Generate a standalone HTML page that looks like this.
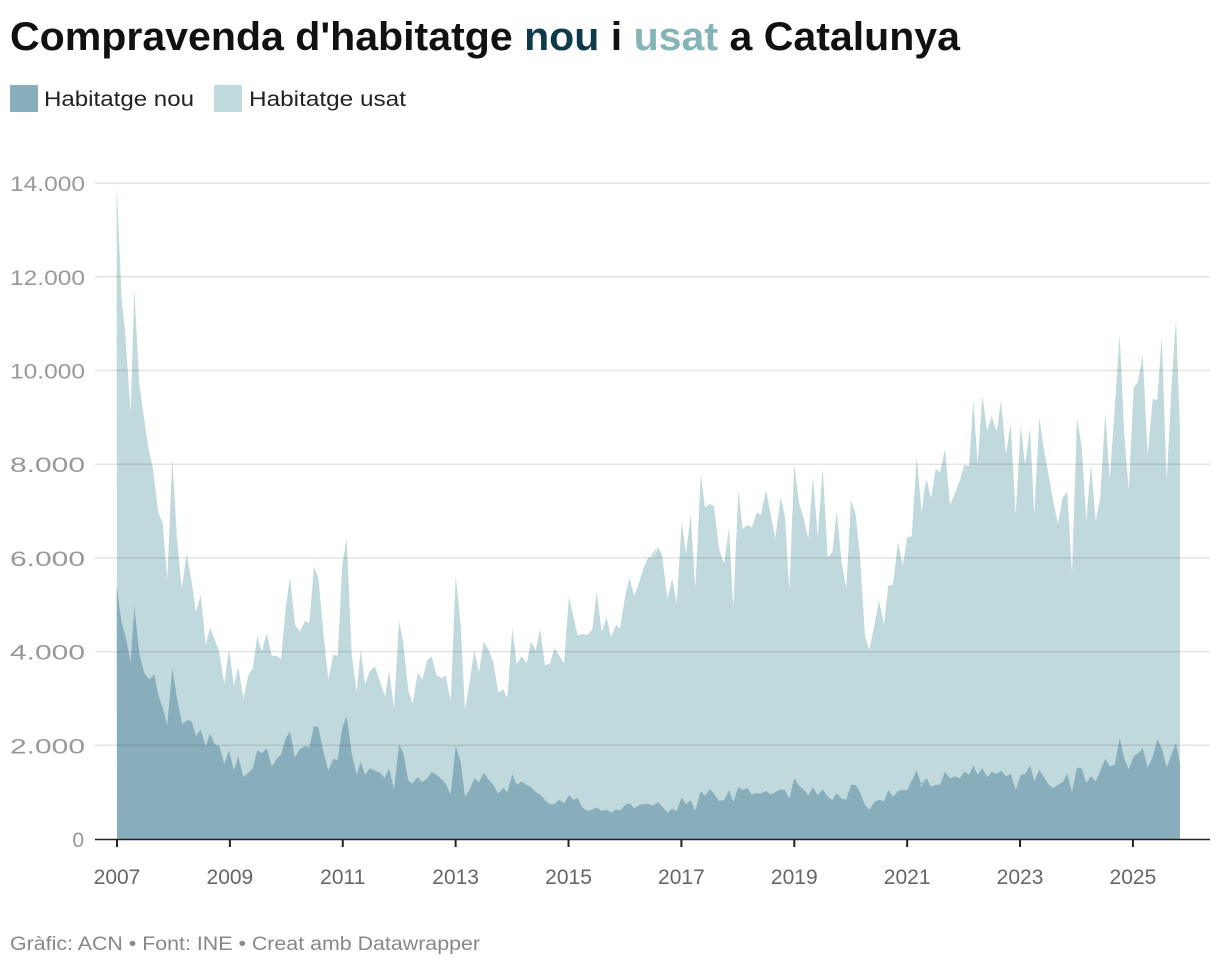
<!DOCTYPE html>
<html><head><meta charset="utf-8"><style>
body{margin:0;background:#fff;width:1220px;height:966px;overflow:hidden;font-family:"Liberation Sans",sans-serif}
</style></head><body>
<svg id="s" width="1220" height="966" xmlns="http://www.w3.org/2000/svg" style="position:absolute;left:0;top:0">
<text x="10" y="50" font-family="Liberation Sans" font-weight="bold" font-size="40" fill="#111" textLength="950" lengthAdjust="spacingAndGlyphs">Compravenda d'habitatge <tspan fill="#0d3b4a">nou</tspan> i <tspan fill="#85b4b6">usat</tspan> a Catalunya</text>
<rect x="10" y="85" width="28" height="27" fill="#88adbb"/>
<text x="44" y="106" font-size="21" fill="#222" textLength="150" lengthAdjust="spacingAndGlyphs">Habitatge nou</text>
<rect x="214" y="85" width="28" height="27" fill="#c0d9dc"/>
<text x="249" y="106" font-size="21" fill="#222" textLength="157" lengthAdjust="spacingAndGlyphs">Habitatge usat</text>
<g id="areas"></g>
<g id="grid"></g>
<line x1="95" y1="839.5" x2="1210" y2="839.5" stroke="#222" stroke-width="1.5"/>
<g id="ticks"></g>
<text x="10" y="950" font-size="19" fill="#888" textLength="470" lengthAdjust="spacingAndGlyphs">Gràfic: ACN • Font: INE • Creat amb Datawrapper</text>
</svg>
<script>
var L=[[110,[[20,35],[35,300],[45,370],[62,560],[73,275],[88,495],[100,560],[115,640],[128,685],[145,790],[158,815],[172,945],[187,665],[200,840],[215,965],[230,885],[245,950],[258,1020],[272,980],[287,1095],[300,1055],[315,1085],[327,1110],[343,1185],[357,1105],[372,1190],[385,1145],[400,1220],[415,1165],[428,1150],[442,1075],[455,1110],[470,1068],[485,1120],[500,1120],[513,1128],[527,1010],[540,940],[555,1048],[570,1065],[585,1040],[598,1045],[612,915],[625,940],[640,1065],[655,1175],[670,1118],[683,1120],[697,910],[710,850],[725,1118],[740,1205],[752,1105],[765,1185],[780,1155],[795,1145],[810,1180],[825,1215],[840,1150]]],
[380,[[13,1220],[27,1155],[42,1240],[57,1040],[70,1090],[85,1200],[98,1230],[113,1160],[127,1175],[142,1130],[155,1122],[170,1165],[185,1172],[197,1165],[212,1225],[227,935],[242,1050],[255,1245],[268,1185],[283,1108],[297,1158],[311,1088],[325,1105],[340,1135],[355,1205],[370,1198],[382,1218],[397,1055],[410,1140],[425,1120],[440,1138],[453,1087],[467,1108],[480,1058],[495,1142],[510,1138],[523,1103],[538,1120],[552,1138],[567,983],[580,1030],[593,1073],[607,1070],[622,1072],[637,1060],[650,973],[665,1065],[680,1032],[693,1078],[708,1048],[720,1058],[735,985],[748,940],[763,982],[777,952],[792,915],[805,893],[820,893],[833,868]]],
[650,[[0,893],[13,890],[25,870],[37,890],[52,990],[67,942],[80,1000],[95,812],[108,885],[122,795],[136,965],[152,703],[165,778],[180,770],[192,775],[207,873],[222,908],[237,825],[250,1010],[265,740],[278,828],[292,818],[305,825],[320,790],[333,795],[348,738],[362,795],[376,848],[392,755],[405,800],[418,970],[433,680],[447,768],[460,800],[475,850],[489,708],[503,845],[518,688],[533,893],[547,882],[560,788],[575,905],[589,965],[603,762],[617,795],[630,890],[645,1075],[658,1108],[673,1050],[687,993],[702,1048],[715,958],[729,957],[744,858],[758,912],[772,847],[785,845],[800,662],[815,790],[828,714]]],
[920,[[0,790],[5,770],[20,713],[33,758],[47,688],[60,698],[75,643],[90,772],[105,745],[120,715],[133,680],[147,683],[160,530],[173,678],[187,520],[202,603],[215,567],[230,603],[243,532],[258,655],[272,585],[287,795],[302,590],[315,680],[330,597],[343,795],[358,572],[372,645],[386,705],[400,765],[414,815],[428,755],[442,742],[456,930],[471,572],[485,640],[499,808],[513,680],[527,810],[541,755],[556,560],[569,715],[584,550],[599,380],[612,600],[626,738],[641,503],[654,487],[668,427],[683,658],[698,528],[712,530],[725,385],[740,717],[755,490],[768,345],[780,600]]]];
var D=[[110,[[20,960],[35,1045],[48,1080],[62,1135],[73,1005],[88,1115],[103,1160],[118,1175],[133,1163],[145,1210],[158,1240],[172,1280],[187,1148],[200,1215],[217,1278],[233,1268],[245,1272],[258,1305],[272,1290],[287,1330],[300,1300],[315,1325],[328,1328],[343,1370],[357,1338],[372,1385],[385,1352],[400,1400],[415,1390],[428,1380],[442,1338],[455,1345],[470,1333],[485,1375],[500,1358],[513,1348],[527,1310],[540,1295],[555,1355],[570,1335],[585,1328],[598,1332],[612,1282],[625,1285],[640,1340],[655,1385],[670,1358],[683,1360],[697,1285],[710,1260],[725,1345],[740,1395],[752,1365],[765,1395],[780,1380],[795,1385],[810,1390],[825,1402],[840,1380]]],
[380,[[13,1405],[27,1380],[42,1428],[57,1325],[70,1345],[85,1408],[98,1415],[113,1400],[127,1412],[142,1403],[155,1388],[170,1395],[185,1405],[197,1415],[212,1440],[227,1328],[242,1365],[255,1445],[268,1430],[283,1403],[297,1412],[311,1390],[325,1405],[340,1418],[355,1438],[370,1425],[382,1435],[397,1393],[410,1418],[425,1410],[440,1418],[453,1423],[467,1435],[480,1440],[495,1453],[510,1463],[523,1462],[538,1452],[552,1460],[567,1442],[580,1452],[593,1448],[607,1470],[622,1478],[637,1475],[650,1470],[665,1478],[680,1475],[693,1482],[708,1475],[720,1477],[735,1465],[748,1460],[763,1472],[777,1465],[792,1462],[805,1462],[820,1466],[833,1458]]],
[650,[[0,1468],[10,1465],[25,1458],[37,1468],[52,1482],[67,1473],[80,1478],[95,1447],[108,1463],[122,1453],[136,1478],[152,1432],[165,1443],[180,1428],[192,1438],[207,1455],[222,1453],[237,1430],[250,1458],[265,1423],[278,1430],[292,1425],[305,1440],[320,1437],[333,1438],[348,1432],[362,1440],[376,1435],[392,1428],[405,1430],[418,1450],[433,1402],[447,1420],[460,1428],[475,1442],[489,1423],[503,1442],[518,1428],[533,1445],[547,1453],[560,1437],[575,1450],[589,1452],[603,1418],[617,1418],[630,1435],[645,1465],[658,1475],[673,1458],[687,1452],[702,1456],[715,1430],[729,1445],[744,1432],[758,1430],[772,1430],[785,1408],[800,1385],[815,1420],[828,1402]]],
[920,[[0,1418],[5,1422],[20,1403],[33,1422],[47,1418],[60,1418],[75,1388],[90,1403],[105,1398],[120,1403],[133,1387],[147,1395],[160,1373],[173,1395],[187,1380],[202,1400],[215,1388],[230,1393],[243,1385],[258,1398],[272,1392],[287,1430],[302,1395],[315,1393],[330,1373],[343,1410],[358,1383],[372,1400],[386,1418],[400,1425],[414,1418],[428,1412],[442,1392],[456,1435],[471,1378],[485,1380],[499,1413],[513,1398],[527,1410],[541,1385],[556,1358],[569,1375],[584,1372],[599,1310],[612,1355],[626,1383],[641,1352],[654,1345],[668,1333],[683,1378],[698,1353],[712,1313],[725,1333],[740,1378],[755,1347],[768,1322],[780,1370]]]];
function pts(P){var a=[];P.forEach(function(g){g[1].forEach(function(p){a.push((g[0]+p[0]/3).toFixed(1)+","+(170+p[1]/2.306).toFixed(1));});});return "117,839 "+a.join(" ")+" 1180,839";}
var ns="http://www.w3.org/2000/svg";
function poly(P,c){var e=document.createElementNS(ns,"polygon");e.setAttribute("points",pts(P));e.setAttribute("fill",c);document.getElementById("areas").appendChild(e);}
poly(L,"#c0d9dc");poly(D,"#88adbb");
var g=document.getElementById("grid");
for(var i=1;i<=7;i++){var y=839-i*93.7;var l=document.createElementNS(ns,"line");l.setAttribute("x1",95);l.setAttribute("x2",1210);l.setAttribute("y1",y);l.setAttribute("y2",y);l.setAttribute("stroke","rgba(0,0,0,0.1)");l.setAttribute("stroke-width","1.5");g.appendChild(l);
var t=document.createElementNS(ns,"text");t.setAttribute("x",10);t.setAttribute("y",y+8);t.setAttribute("font-size","21");t.setAttribute("fill","#999");t.setAttribute("textLength","75");t.setAttribute("lengthAdjust","spacingAndGlyphs");t.textContent=(i*2)+".000";g.appendChild(t);}
var t0=document.createElementNS(ns,"text");t0.setAttribute("x",84);t0.setAttribute("y",847);t0.setAttribute("text-anchor","end");t0.setAttribute("font-size","21");t0.setAttribute("fill","#999");t0.textContent="0";g.appendChild(t0);
var tk=document.getElementById("ticks");
for(var yr=2007;yr<=2025;yr+=2){var x=117+(yr-2007)*56.44;var l=document.createElementNS(ns,"line");l.setAttribute("x1",x);l.setAttribute("x2",x);l.setAttribute("y1",839);l.setAttribute("y2",847);l.setAttribute("stroke","#222");l.setAttribute("stroke-width","2");tk.appendChild(l);
var t=document.createElementNS(ns,"text");t.setAttribute("x",x);t.setAttribute("y",884);t.setAttribute("text-anchor","middle");t.setAttribute("font-size","21");t.setAttribute("fill","#666");t.textContent=yr;tk.appendChild(t);}
</script>
</body></html>
